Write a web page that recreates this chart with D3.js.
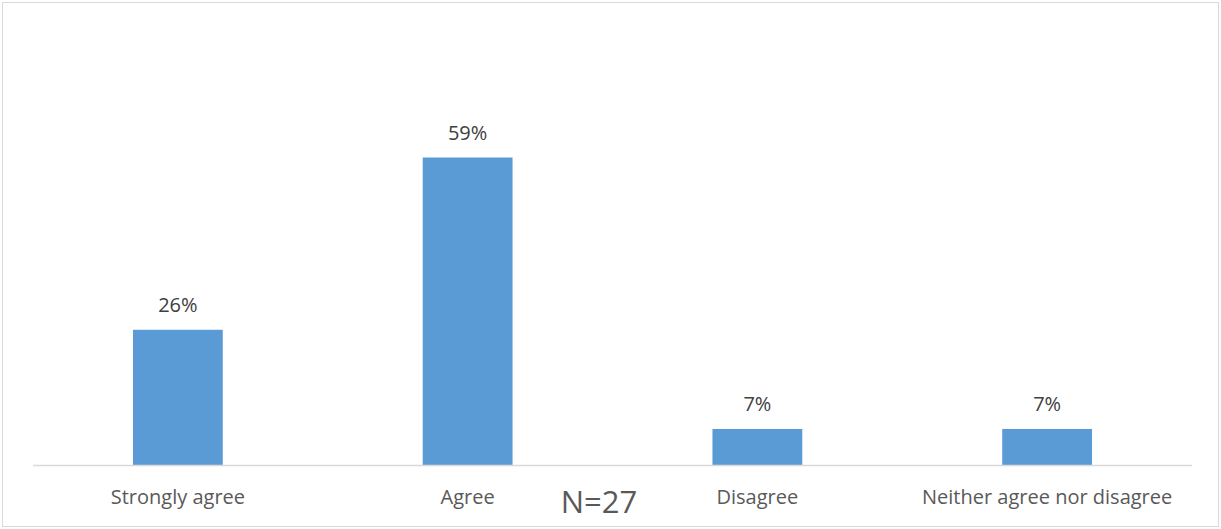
<!DOCTYPE html>
<html>
<head>
<meta charset="utf-8">
<script src="https://cdn.jsdelivr.net/npm/d3@7"></script>
<style>
  html, body { margin: 0; padding: 0; background: #fff; }
  svg { display: block; }
  text { font-family: "Open Sans", "Noto Sans", sans-serif; }
</style>
</head>
<body>
<svg id="chart" width="1221" height="529"></svg>
<script>
// Survey responses (share of respondents)
const categories = ["Strongly agree", "Agree", "Disagree", "Neither agree nor disagree"];
const values = [26, 59, 7, 7];
const sampleLabel = "N=27";

const W = 1221, H = 529;
const plot = { left: 33, right: 1192, top: 20, bottom: 465.5 };
const FONT = "'Open Sans', 'Noto Sans', sans-serif";

const svg = d3.select("#chart");

// outer frame
svg.append("rect")
  .attr("x", 2.5).attr("y", 2.5)
  .attr("width", W - 5).attr("height", H - 5)
  .attr("fill", "#fff").attr("stroke", "#d9d9d9").attr("stroke-width", 1);

const x = d3.scaleBand()
  .domain(categories)
  .range([plot.left, plot.right])
  .paddingInner(0.69)
  .paddingOuter(0.345);

const y = d3.scaleLinear()
  .domain([0, 59 * 465 / 308])
  .range([plot.bottom, plot.bottom - 465]);

// bars
svg.append("g").selectAll("rect")
  .data(values)
  .join("rect")
  .attr("x", (d, i) => x(categories[i]))
  .attr("y", d => y(d))
  .attr("width", x.bandwidth())
  .attr("height", d => y(0) - y(d))
  .attr("fill", "#5b9bd5");

// value labels
svg.append("g").selectAll("text")
  .data(values)
  .join("text")
  .attr("x", (d, i) => x(categories[i]) + x.bandwidth() / 2)
  .attr("y", d => y(d) - 18)
  .attr("text-anchor", "middle")
  .attr("font-size", 20)
  .attr("fill", "#404040")
  .text(d => d + "%");

// category axis
const axis = d3.axisBottom(x).tickSize(0).tickPadding(0);
const gx = svg.append("g")
  .attr("transform", `translate(0,${plot.bottom})`)
  .call(axis);
gx.select(".domain").attr("stroke", "#d9d9d9").attr("stroke-width", 1.5)
  .attr("d", `M${plot.left},0H${plot.right}`);
gx.selectAll(".tick text")
  .attr("dy", null)
  .attr("y", 38)
  .attr("font-size", 20)
  .attr("font-family", FONT)
  .attr("fill", "#595959");

// sample size note
svg.append("text")
  .attr("x", 599)
  .attr("y", 513)
  .attr("text-anchor", "middle")
  .attr("font-size", 31)
  .attr("fill", "#595959")
  .text(sampleLabel);
</script>
</body>
</html>
